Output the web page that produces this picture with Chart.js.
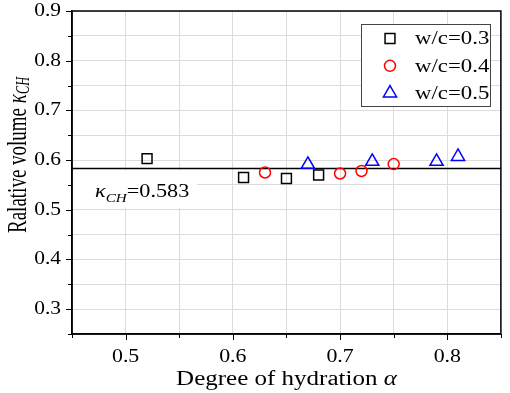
<!DOCTYPE html>
<html>
<head>
<meta charset="utf-8">
<script src="https://cdn.jsdelivr.net/npm/chart.js@4"></script>
<style>
  html, body { margin: 0; padding: 0; background: #fff; }
  #wrap { width: 510px; height: 393px; }
</style>
</head>
<body>
<div id="wrap"><canvas id="chart" width="510" height="393"></canvas></div>
<script>
// axis ranges and tick labels
const xMin = 0.45, xMax = 0.85;
const yMin = 0.25, yMax = 0.9;
const xTickLabels = [0.5, 0.6, 0.7, 0.8];
const yTickLabels = [0.3, 0.4, 0.5, 0.6, 0.7, 0.8, 0.9];

// series
const seriesLabels = ['w/c=0.3', 'w/c=0.4', 'w/c=0.5'];
const wc03X = [0.52, 0.61, 0.65, 0.68];
const wc03Y = [0.603, 0.565, 0.563, 0.570];
const wc04X = [0.63, 0.70, 0.72, 0.75];
const wc04Y = [0.575, 0.573, 0.578, 0.592];
const wc05X = [0.67, 0.73, 0.79, 0.81];
const wc05Y = [0.591, 0.597, 0.597, 0.607];
const kappaCH = 0.583;

const SERIF = '"Liberation Serif", "Times New Roman", serif';

const toPoints = (xs, ys) => xs.map((x, i) => ({ x, y: ys[i] }));

// text with italic / subscript pieces, sx/sy = glyph stretch
function richText(ctx, x, y, parts, align, sx, sy) {
    ctx.save();
    let w = 0;
    parts.forEach(p => { ctx.font = p[1]; w += ctx.measureText(p[0]).width; });
    ctx.translate(x, y);
    ctx.scale(sx, sy || 1);
    let cx = align === 'center' ? -w / 2 : align === 'right' ? -w : 0;
    ctx.textAlign = 'left';
    parts.forEach(p => {
        ctx.font = p[1];
        ctx.fillText(p[0], cx, p[2] || 0);
        cx += ctx.measureText(p[0]).width;
    });
    ctx.restore();
}

function marker(ctx, style, x, y, r, color) {
    ctx.save();
    ctx.strokeStyle = color;
    ctx.fillStyle = 'rgba(0,0,0,0)';
    ctx.lineWidth = 1.5;
    Chart.helpers.drawPoint(ctx, { pointStyle: style, radius: r, borderWidth: 1.5 }, x, y);
    ctx.restore();
}

const decor = {
    id: 'decor',
    beforeDatasetsDraw(chart) {
        const ctx = chart.ctx;
        const xs = chart.scales.x, ys = chart.scales.y;
        // white box behind the kappa label
        ctx.save();
        ctx.fillStyle = '#fff';
        ctx.fillRect(xs.left + 1, ys.getPixelForValue(kappaCH) + 2, 124, 37);
        ctx.restore();
    },
    afterDraw(chart) {
        const ctx = chart.ctx;
        const xs = chart.scales.x, ys = chart.scales.y;
        const a = chart.chartArea;
        ctx.save();
        ctx.strokeStyle = '#000';
        ctx.lineWidth = 1.5;
        ctx.strokeRect(a.left, a.top, a.right - a.left, a.bottom - a.top);

        // tick marks, major and minor
        ctx.lineWidth = 1;
        for (let v = yMin; v <= yMax + 1e-9; v += 0.05) {
            const py = Math.round(ys.getPixelForValue(v)) + 0.5;
            const major = Math.abs(v * 10 - Math.round(v * 10)) < 1e-6;
            ctx.beginPath();
            ctx.moveTo(a.left, py);
            ctx.lineTo(a.left - (major ? 6 : 4), py);
            ctx.stroke();
        }
        for (let v = xMin; v <= xMax + 1e-9; v += 0.05) {
            const px = Math.round(xs.getPixelForValue(v)) + 0.5;
            const major = Math.abs(v * 10 - Math.round(v * 10)) < 1e-6;
            ctx.beginPath();
            ctx.moveTo(px, a.bottom);
            ctx.lineTo(px, a.bottom + (major ? 6 : 4));
            ctx.stroke();
        }

        // tick labels
        ctx.fillStyle = '#000';
        ctx.textBaseline = 'middle';
        yTickLabels.forEach(v => {
            richText(ctx, a.left - 11, ys.getPixelForValue(v), [[v.toFixed(1), '19px ' + SERIF]], 'right', 1.13);
        });
        ctx.textBaseline = 'alphabetic';
        xTickLabels.forEach(v => {
            richText(ctx, xs.getPixelForValue(v), a.bottom + 28, [[v.toFixed(1), '19px ' + SERIF]], 'center', 1.15);
        });

        // axis titles
        richText(ctx, (a.left + a.right) / 2, a.bottom + 51, [
            ['Degree of hydration ', '20px ' + SERIF],
            ['\u03b1', 'italic 20px ' + SERIF]
        ], 'center', 1.25);
        ctx.save();
        ctx.translate(26, 233);
        ctx.rotate(-Math.PI / 2);
        richText(ctx, 0, 0, [
            ['Ralative volume ', '20px ' + SERIF],
            ['\u03ba', 'italic 20px ' + SERIF],
            ['CH', 'italic 13px ' + SERIF, 2]
        ], 'left', 0.95, 1.4);
        ctx.restore();

        // kappa label
        richText(ctx, a.left + 23, ys.getPixelForValue(kappaCH) + 28, [
            ['\u03ba', 'italic 19px ' + SERIF],
            ['CH', 'italic 13px ' + SERIF, 5],
            ['=0.583', '19px ' + SERIF]
        ], 'left', 1.17);

        // legend
        const lx = 361, ly = 24, lw = 129, lh = 82;
        ctx.fillStyle = '#fff';
        ctx.fillRect(lx, ly, lw, lh);
        ctx.strokeStyle = '#444';
        ctx.lineWidth = 1;
        ctx.strokeRect(lx + 0.5, ly + 0.5, lw, lh);
        const styles = [['rect', 7, '#000'], ['circle', 5.5, '#ff0000'], ['triangle', 7.6, '#0000ff']];
        ctx.textBaseline = 'middle';
        seriesLabels.forEach((t, i) => {
            const yy = ly + 14.5 + i * 27.3;
            marker(ctx, styles[i][0], lx + 29, yy, styles[i][1], styles[i][2]);
            ctx.fillStyle = '#000';
            richText(ctx, lx + 54, yy + 1, [[t, '19px ' + SERIF]], 'left', 1.2);
        });
        ctx.restore();
    }
};

const chart = new Chart(document.getElementById('chart'), {
    type: 'scatter',
    data: {
        datasets: [
            {
                label: seriesLabels[0],
                data: toPoints(wc03X, wc03Y),
                pointStyle: 'rect', pointRadius: 7,
                borderColor: '#000', backgroundColor: 'rgba(0,0,0,0)', borderWidth: 1.5
            },
            {
                label: seriesLabels[1],
                data: toPoints(wc04X, wc04Y),
                pointStyle: 'circle', pointRadius: 5.5,
                borderColor: '#ff0000', backgroundColor: 'rgba(0,0,0,0)', borderWidth: 1.5
            },
            {
                label: seriesLabels[2],
                data: toPoints(wc05X, wc05Y),
                pointStyle: 'triangle', pointRadius: 7.6,
                borderColor: '#0000ff', backgroundColor: 'rgba(0,0,0,0)', borderWidth: 1.5
            },
            {
                type: 'line',
                label: 'kappa',
                data: [{ x: xMin, y: kappaCH }, { x: xMax, y: kappaCH }],
                borderColor: '#000', borderWidth: 1.5, pointRadius: 0
            }
        ]
    },
    options: {
        responsive: false,
        animation: false,
        devicePixelRatio: 1,
        layout: { padding: { top: 11, right: 3, left: 0, bottom: 0 } },
        plugins: { legend: { display: false }, tooltip: { enabled: false } },
        scales: {
            x: {
                type: 'linear', min: xMin, max: xMax,
                ticks: { stepSize: 0.05, display: false },
                grid: { color: '#dcdcdc', drawTicks: false },
                border: { color: '#000', width: 1.5 },
                afterFit: s => { s.height = 59; }
            },
            y: {
                type: 'linear', min: yMin, max: yMax,
                ticks: { stepSize: 0.05, display: false },
                grid: { color: '#dcdcdc', drawTicks: false },
                border: { color: '#000', width: 1.5 },
                afterFit: s => { s.width = 72; }
            }
        }
    },
    plugins: [decor]
});
</script>
</body>
</html>
